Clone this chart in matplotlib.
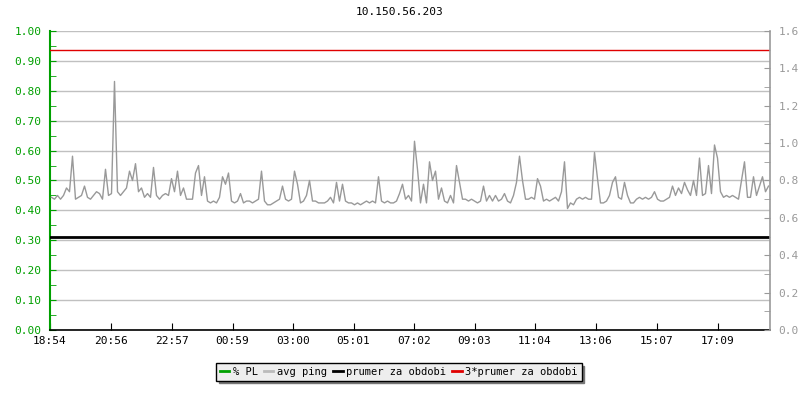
import matplotlib
matplotlib.use("Agg")
import matplotlib.pyplot as plt
from matplotlib.lines import Line2D
from matplotlib.ticker import MultipleLocator, FormatStrFormatter
import numpy as np

title = "10.150.56.203"

# avg ping, one sample every 6 minutes (right axis units)
ping = [
    0.71, 0.70, 0.72, 0.70, 0.72, 0.76, 0.74, 0.93, 0.70, 0.71,
    0.72, 0.77, 0.71, 0.70, 0.72, 0.74, 0.73, 0.70, 0.86, 0.72,
    0.73, 1.33, 0.74, 0.72, 0.74, 0.76, 0.85, 0.80, 0.89, 0.74,
    0.76, 0.71, 0.73, 0.71, 0.87, 0.72, 0.70, 0.72, 0.73, 0.72,
    0.81, 0.74, 0.85, 0.72, 0.76, 0.70, 0.70, 0.70, 0.84, 0.88,
    0.72, 0.82, 0.69, 0.68, 0.69, 0.68, 0.71, 0.82, 0.78, 0.84,
    0.69, 0.68, 0.69, 0.73, 0.68, 0.69, 0.69, 0.68, 0.69, 0.70,
    0.85, 0.69, 0.67, 0.67, 0.68, 0.69, 0.70, 0.77, 0.70, 0.69,
    0.70, 0.85, 0.78, 0.68, 0.69, 0.72, 0.80, 0.69, 0.69, 0.68,
    0.68, 0.68, 0.69, 0.71, 0.68, 0.79, 0.69, 0.78, 0.69, 0.68,
    0.68, 0.67, 0.68, 0.67, 0.68, 0.69, 0.68, 0.69, 0.68, 0.82,
    0.69, 0.68, 0.69, 0.68, 0.68, 0.69, 0.73, 0.78, 0.70, 0.72,
    0.69, 1.01, 0.86, 0.68, 0.78, 0.68, 0.90, 0.80, 0.85, 0.70,
    0.76, 0.69, 0.68, 0.72, 0.68, 0.88, 0.79, 0.70, 0.70, 0.69,
    0.70, 0.69, 0.68, 0.69, 0.77, 0.69, 0.72, 0.69, 0.72, 0.69,
    0.70, 0.73, 0.69, 0.68, 0.72, 0.79, 0.93, 0.80, 0.70, 0.70,
    0.71, 0.70, 0.81, 0.77, 0.69, 0.70, 0.69, 0.70, 0.71, 0.69,
    0.74, 0.90, 0.65, 0.68, 0.67, 0.70, 0.71, 0.70, 0.71, 0.70,
    0.70, 0.95, 0.81, 0.68, 0.68, 0.69, 0.72, 0.79, 0.82, 0.71,
    0.70, 0.79, 0.72, 0.68, 0.68, 0.70, 0.71, 0.70, 0.71, 0.70,
    0.71, 0.74, 0.70, 0.69, 0.69, 0.70, 0.71, 0.77, 0.72, 0.76,
    0.73, 0.79, 0.75, 0.72, 0.80, 0.72, 0.92, 0.72, 0.73, 0.88,
    0.73, 0.99, 0.92, 0.74, 0.71, 0.72, 0.71, 0.72, 0.71, 0.70,
    0.80, 0.90, 0.71, 0.71, 0.82, 0.72, 0.77, 0.82, 0.74, 0.77,
]
step_min = 6
prumer = 0.5          # right axis units
prumer3 = 1.5

tick_labels = ["18:54", "20:56", "22:57", "00:59", "03:00", "05:01",
               "07:02", "09:03", "11:04", "13:06", "15:07", "17:09"]
legend_labels = ["% PL", "avg ping", "prumer za obdobi", "3*prumer za obdobi"]

GREEN = "#00a000"
GRAY = "#999999"
GRID = "#c0c0c0"
FONT = "DejaVu Sans Mono"

plt.rcParams["font.family"] = FONT
plt.rcParams["font.size"] = 8

fig = plt.figure(figsize=(8, 4), dpi=100)
ax = fig.add_axes([0.0625, 0.175, 0.9, 0.7475])
ax2 = ax.twinx()

# tick positions in minutes from start
start = 18 * 60 + 54
tick_pos = []
for t in tick_labels:
    h, m = t.split(":")
    v = int(h) * 60 + int(m) - start
    if v < 0:
        v += 1440
    tick_pos.append(v)

x = np.arange(len(ping)) * step_min + step_min / 2

ax.set_xlim(0, 1440)
ax.set_ylim(0, 1)
ax2.set_ylim(0, 1.6)

ax.yaxis.set_major_locator(MultipleLocator(0.1))
ax.yaxis.set_minor_locator(MultipleLocator(0.05))
ax.yaxis.set_major_formatter(FormatStrFormatter("%.2f"))
ax2.yaxis.set_major_locator(MultipleLocator(0.2))
ax2.yaxis.set_minor_locator(MultipleLocator(0.1))
ax2.yaxis.set_major_formatter(FormatStrFormatter("%.1f"))

ax.grid(axis="y", color=GRID, linewidth=1)
ax.set_axisbelow(True)
ax.set_xticks(tick_pos)
ax.set_xticklabels(tick_labels)

ax2.plot(x, ping, color=GRAY, linewidth=1)
ax2.axhline(prumer, color="black", linewidth=2)
ax2.axhline(prumer3, color="#e00000", linewidth=1)

ax.tick_params(axis="y", which="both", direction="in", colors=GREEN, length=4, pad=6)
ax.tick_params(axis="x", direction="in", length=5, colors="black", pad=4)
ax2.tick_params(axis="y", which="both", direction="in", colors=GRAY, length=4, pad=6)

for a in (ax, ax2):
    a.spines["top"].set_visible(False)
ax.spines["left"].set_color(GREEN)
ax.spines["left"].set_linewidth(1.5)
ax.spines["right"].set_visible(False)
ax2.spines["left"].set_visible(False)
ax2.spines["bottom"].set_visible(False)
ax2.spines["right"].set_color(GRAY)
ax2.spines["right"].set_linewidth(1.2)
ax.spines["bottom"].set_color("black")
ax.spines["bottom"].set_linewidth(1.2)

fig.text(0.5, 0.97, title, ha="center", va="center", fontsize=8)

handles = [Line2D([], [], color=c, linewidth=2)
           for c in (GREEN, "#bbbbbb", "black", "#e00000")]
leg = fig.legend(handles, legend_labels, loc="center", bbox_to_anchor=(0.4985, 0.07),
                 ncol=4, frameon=True, fancybox=False, shadow={"color": "#777777", "alpha": 1},
                 handlelength=0.9, handletextpad=0.35, columnspacing=0.6,
                 borderpad=0.35, fontsize=7.5)
leg.get_frame().set_facecolor("#eeeeee")
leg.get_frame().set_edgecolor("black")
leg.get_frame().set_alpha(1)

fig.savefig("out.png", dpi=100)
